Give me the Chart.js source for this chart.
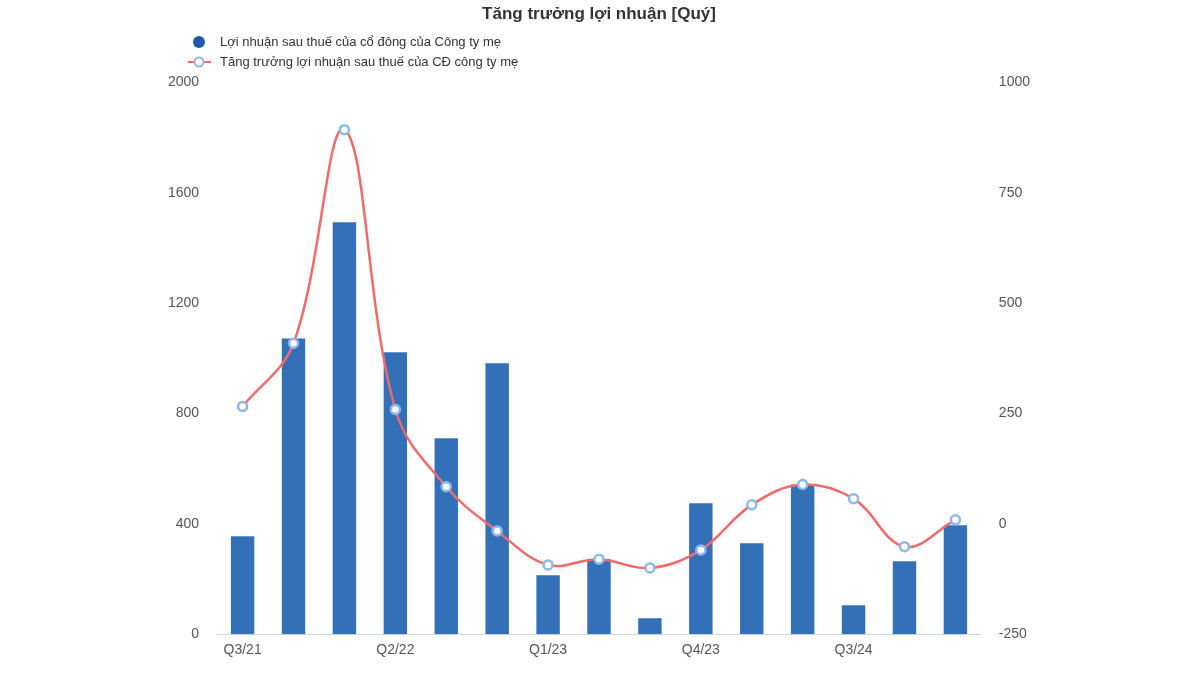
<!DOCTYPE html>
<html><head><meta charset="utf-8">
<script src="https://cdn.jsdelivr.net/npm/chart.js@4"></script>
<style>html,body{margin:0;background:#fff}#w{width:1200px;height:675px}</style>
</head><body><div id="w"><canvas id="c"></canvas></div>
<script>
const categories=["Q3/21","Q4/21","Q1/22","Q2/22","Q3/22","Q4/22","Q1/23","Q2/23","Q3/23","Q4/23","Q1/24","Q2/24","Q3/24","Q4/24","Q1/25"];
const profit=[355,1072,1493,1022,710,982,214,272,58,475,330,543,105,264,395];
const growth=[266,409,893,259,84,-16,-93,-80,-100,-59,43,89,57,-52,9];
const leftTicks=[0,400,800,1200,1600,2000];
const rightTicks=[-250,0,250,500,750,1000];
Chart.defaults.font.family="Arial, 'Liberation Sans', sans-serif";
const legendPlugin={id:'vlegend',afterDraw(ch){const c=ch.ctx;c.save();c.font="13px Arial, 'Liberation Sans', sans-serif";c.fillStyle='#333';c.textBaseline='middle';
 c.beginPath();c.arc(199,42,6,0,Math.PI*2);c.fillStyle='#1f5aa8';c.fill();
 c.fillStyle='#333';c.fillText(ch.data.datasets[1].label,220,42);
 c.strokeStyle='#f06a6a';c.lineWidth=2;c.beginPath();c.moveTo(188,62);c.lineTo(211,62);c.stroke();
 c.beginPath();c.arc(199,62,4.5,0,Math.PI*2);c.fillStyle='#fff';c.fill();c.strokeStyle='#8db8ea';c.lineWidth=2;c.stroke();
 c.fillStyle='#333';c.fillText(ch.data.datasets[0].label,220,62);c.restore();}};
new Chart(document.getElementById('c'),{
 data:{labels:categories,datasets:[
  {type:'line',label:'Tăng trưởng lợi nhuận sau thuế của CĐ công ty mẹ',data:growth,yAxisID:'y1',borderColor:'#f06a6a',borderWidth:2.5,tension:0.38,pointRadius:4.5,pointBorderWidth:2.5,pointBackgroundColor:'#fff',pointBorderColor:'#8db8ea',order:0},
  {type:'bar',label:'Lợi nhuận sau thuế của cổ đông của Công ty mẹ',data:profit,yAxisID:'y',backgroundColor:'#3470b8',barPercentage:0.46,categoryPercentage:1,order:1}
 ]},
 plugins:[legendPlugin],
 options:{responsive:true,maintainAspectRatio:false,animation:false,
  layout:{padding:{left:158,right:160,top:4,bottom:8}},
  plugins:{
   title:{display:true,text:'Tăng trưởng lợi nhuận [Quý]',color:'#333',font:{size:17,weight:'bold'},padding:{top:0,bottom:58}},
   legend:{display:false},
   tooltip:{enabled:false}},
  scales:{
   x:{grid:{display:false,drawTicks:false},border:{color:'#c9d8ee'},ticks:{autoSkip:false,maxRotation:0,color:'#555',font:{size:14},padding:8,callback:(v,i)=>i%3===0?categories[i]:''}},
   y:{position:'left',min:0,max:2000,afterBuildTicks:a=>{a.ticks=leftTicks.map(v=>({value:v}))},grid:{display:false},border:{display:false},ticks:{color:'#555',font:{size:14},padding:10,callback:v=>String(v)}},
   y1:{position:'right',min:-250,max:1000,afterBuildTicks:a=>{a.ticks=rightTicks.map(v=>({value:v}))},grid:{display:false},border:{display:false},ticks:{color:'#555',font:{size:14},padding:10,callback:v=>String(v)}}
  }}
});
</script></body></html>
